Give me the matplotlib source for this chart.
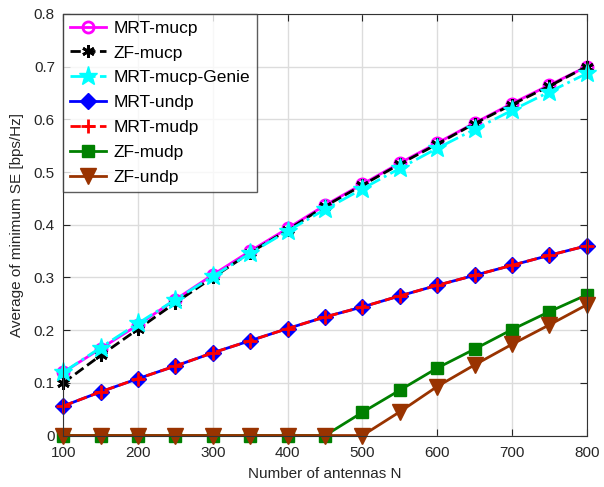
import matplotlib
matplotlib.use("Agg")
import matplotlib.pyplot as plt

N = [100, 150, 200, 250, 300, 350, 400, 450, 500, 550, 600, 650, 700, 750, 800]
mrt_mucp = [0.120, 0.165, 0.210, 0.258, 0.305, 0.350, 0.393, 0.437, 0.477, 0.517, 0.555, 0.593, 0.630, 0.665, 0.700]
zf_mucp = [0.100, 0.152, 0.202, 0.252, 0.300, 0.347, 0.390, 0.435, 0.475, 0.515, 0.553, 0.592, 0.628, 0.663, 0.700]
mrt_mucp_genie = [0.120, 0.167, 0.213, 0.258, 0.302, 0.346, 0.388, 0.429, 0.468, 0.507, 0.545, 0.581, 0.617, 0.652, 0.687]
mrt_undp = [0.056, 0.083, 0.108, 0.132, 0.157, 0.180, 0.203, 0.225, 0.244, 0.265, 0.285, 0.304, 0.323, 0.342, 0.360]
mrt_mudp = [0.056, 0.083, 0.108, 0.132, 0.157, 0.180, 0.203, 0.225, 0.244, 0.265, 0.285, 0.304, 0.323, 0.342, 0.360]
zf_mudp = [0, 0, 0, 0, 0, 0, 0, 0, 0.044, 0.086, 0.128, 0.164, 0.201, 0.235, 0.267]
zf_undp = [0, 0, 0, 0, 0, 0, 0, 0, 0, 0.045, 0.093, 0.134, 0.173, 0.210, 0.248]

plt.rcParams['font.family'] = ['Liberation Sans', 'DejaVu Sans']

fig = plt.figure(figsize=(6.04, 4.87), dpi=100)
ax = fig.add_axes([0.1048, 0.1057, 0.8666, 0.8657])

brown = (0.6, 0.2, 0.0)
kw = dict(lw=2, clip_on=False)
ax.plot(N, mrt_mucp, '-', color='magenta', marker='o', ms=8, mfc='none', mew=2, label='MRT-mucp', **kw)
ax.plot(N, zf_mucp, '--', color='black', marker=(6, 2, 0), ms=9, mew=2, label='ZF-mucp', **kw)
ax.plot(N, mrt_mucp_genie, '-.', color='cyan', marker='*', ms=14, mfc='cyan', mec='cyan', label='MRT-mucp-Genie', **kw)
ax.plot(N, mrt_undp, '-', color='blue', marker='D', ms=8, mfc='blue', label='MRT-undp', **kw)
ax.plot(N, mrt_mudp, '--', color='red', marker='+', ms=10, mew=2, label='MRT-mudp', **kw)
ax.plot(N, zf_mudp, '-', color='green', marker='s', ms=8, mfc='green', label='ZF-mudp', **kw)
ax.plot(N, zf_undp, '-', color=brown, marker='v', ms=11, mfc=brown, label='ZF-undp', **kw)

ax.set_xlim(100, 800)
ax.set_ylim(0, 0.8)
ax.set_xticks(range(100, 801, 100))
ax.set_yticks([i / 10 for i in range(9)])
ax.set_yticklabels(['0', '0.1', '0.2', '0.3', '0.4', '0.5', '0.6', '0.7', '0.8'])
ax.tick_params(direction='in', labelsize=11, length=5, top=True, right=True, colors='#262626')
ax.tick_params(axis='x', pad=7.5)
ax.tick_params(axis='y', pad=6)
ax.grid(True, color='#dcdcdc', lw=1)
ax.set_axisbelow(True)
for s in ax.spines.values():
    s.set_color('#333333')
ax.set_xlabel('Number of antennas N', fontsize=11, labelpad=5, color='#262626')
ax.set_ylabel('Average of minimum SE [bps/Hz]', fontsize=11, labelpad=7, color='#262626')

leg = ax.legend(loc='upper left', fontsize=12.5, frameon=True, fancybox=False,
                borderaxespad=0, handlelength=2.1, handletextpad=0.4,
                labelspacing=0.56, borderpad=0.38)
leg.get_frame().set_edgecolor('#333333')
leg.get_frame().set_linewidth(1)
leg.set_zorder(5)

fig.savefig('out.png', dpi=100)
